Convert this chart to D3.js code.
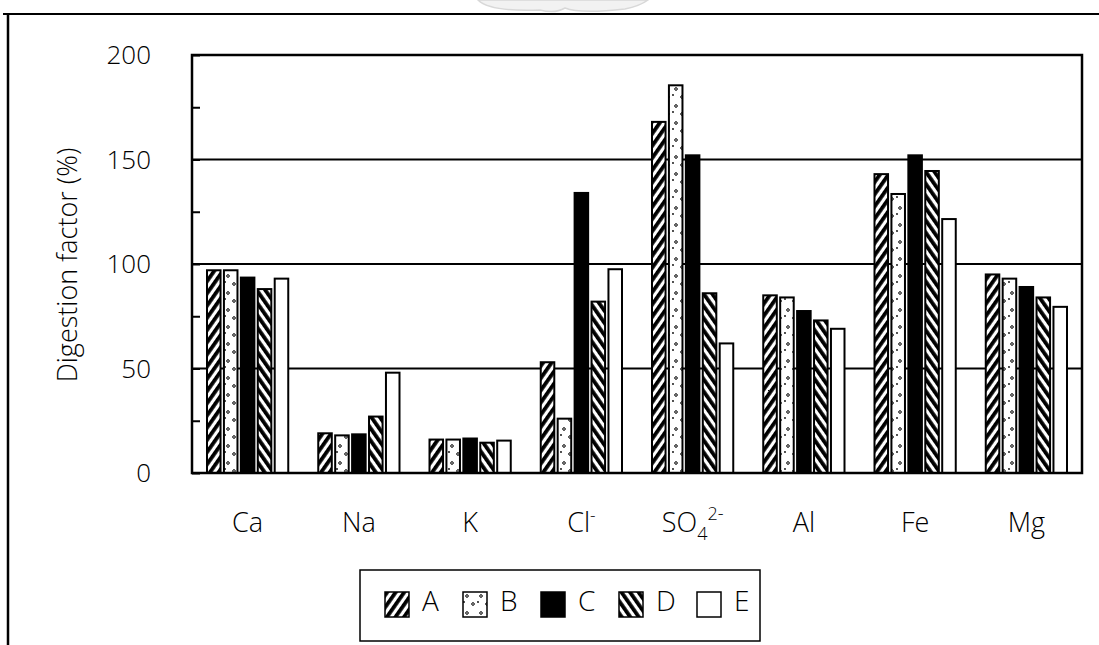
<!DOCTYPE html>
<html><head><meta charset="utf-8">
<script src="https://cdn.jsdelivr.net/npm/d3@7"></script>
<style>body{margin:0;background:#fff}svg{display:block}text{font-family:"Open Sans",sans-serif;fill:#000;font-weight:300}</style>
</head><body>
<svg id="c" width="1099" height="645"></svg>
<script>
const categories = ["Ca","Na","K","Cl","SO4","Al","Fe","Mg"];
const series = ["A","B","C","D","E"];
const valuesA = [97, 19, 16, 53, 168, 85, 143, 95];
const valuesB = [97, 18, 16, 26, 185.5, 84, 133.5, 93];
const valuesC = [93.5, 18.5, 16.5, 134, 152, 77.5, 152, 89];
const valuesD = [88, 27, 14.5, 82, 86, 73, 144.5, 84];
const valuesE = [93, 48, 15.5, 97.5, 62, 69, 121.5, 79.5];
const yTicks = [0, 50, 100, 150, 200];
const gridValues = [50, 100, 150];

const svg = d3.select("#c");
const defs = svg.append("defs");
function stripes(id, angle){
  const p = defs.append("pattern").attr("id", id).attr("patternUnits","userSpaceOnUse")
    .attr("width", 7).attr("height", 7).attr("patternTransform", `rotate(${angle})`);
  p.append("rect").attr("width",7).attr("height",7).attr("fill","#fff");
  p.append("rect").attr("width",3.8).attr("height",7).attr("fill","#000");
}
stripes("pA", 35);
stripes("pD", -35);
const pb = defs.append("pattern").attr("id","pB").attr("patternUnits","userSpaceOnUse").attr("width",14).attr("height",17);
pb.append("rect").attr("width",14).attr("height",17).attr("fill","#fff");
pb.append("circle").attr("cx",4).attr("cy",4).attr("r",1.3).attr("fill","none").attr("stroke","#000").attr("stroke-width",1);
pb.append("circle").attr("cx",10).attr("cy",12).attr("r",1.3).attr("fill","none").attr("stroke","#000").attr("stroke-width",1);
pb.append("circle").attr("cx",1).attr("cy",10).attr("r",0.9).attr("fill","#000");
const fills = {A:"url(#pA)", B:"url(#pB)", C:"#000", D:"url(#pD)", E:"#fff"};

// faint watermark fragment at top
svg.append("path").attr("d","M478,0 Q490,12 540,10 Q555,14 565,8 Q580,14 625,9 Q640,6 648,0 Z")
  .attr("fill","#f2f2f2").attr("stroke","#d8d8d8").attr("stroke-width",1.5);

// outer frame
svg.append("line").attr("x1",3).attr("x2",1099).attr("y1",14).attr("y2",14).attr("stroke","#000").attr("stroke-width",2);
svg.append("line").attr("x1",8).attr("x2",8).attr("y1",14).attr("y2",645).attr("stroke","#000").attr("stroke-width",2.5);

const L = 192, R = 1082, T = 55, B = 473;
const y = d3.scaleLinear().domain([0,200]).range([B,T]);
const x0 = d3.scaleBand().domain(categories).range([L,R]).padding(0);
const x1 = d3.scaleBand().domain(series).range([15, x0.bandwidth()-15]).paddingInner(0.2).paddingOuter(0);

svg.append("g").selectAll("line").data(gridValues).join("line")
  .attr("x1",L).attr("x2",R).attr("y1",d=>y(d)).attr("y2",d=>y(d))
  .attr("stroke","#000").attr("stroke-width",2);

const data = categories.map((c,i)=>({c, vals:[valuesA[i],valuesB[i],valuesC[i],valuesD[i],valuesE[i]]}));
const g = svg.append("g");
data.forEach(d=>{
  series.forEach((s,j)=>{
    g.append("rect").attr("x", x0(d.c)+x1(s)).attr("width", x1.bandwidth())
      .attr("y", y(d.vals[j])).attr("height", y(0)-y(d.vals[j]))
      .attr("fill", fills[s]).attr("stroke","#000").attr("stroke-width",2);
  });
});

const yAxis = d3.axisRight(y).tickValues(d3.range(0,201,25)).tickSize(8).tickFormat("");
const ya = svg.append("g").attr("transform",`translate(${L},0)`).call(yAxis);
ya.select(".domain").remove();
ya.selectAll("line").attr("stroke","#000").attr("stroke-width",2);
svg.append("g").selectAll("text").data(yTicks).join("text")
  .attr("x",151).attr("y",d=>y(d)).attr("dy","0.36em").attr("text-anchor","end")
  .attr("font-size",26).text(d=>d);

svg.append("rect").attr("x",L).attr("y",T).attr("width",R-L).attr("height",B-T)
  .attr("fill","none").attr("stroke","#000").attr("stroke-width",2.5);

svg.append("text").attr("transform",`translate(77,265) rotate(-90)`)
  .attr("text-anchor","middle").attr("font-size",27).text("Digestion factor (%)");

const xl = svg.append("g").selectAll("text").data(categories).join("text")
  .attr("x",d=>x0(d)+x0.bandwidth()/2).attr("y",532).attr("text-anchor","middle").attr("font-size",27);
xl.each(function(d){
  const t = d3.select(this);
  if(d==="Cl"){ t.text("Cl"); t.append("tspan").attr("dy",-11).attr("font-size",17).text("-"); }
  else if(d==="SO4"){ t.text("SO"); t.append("tspan").attr("dy",8).attr("font-size",18).text("4");
    t.append("tspan").attr("dy",-20).attr("font-size",18).text("2-"); }
  else t.text(d);
});

svg.append("rect").attr("x",360).attr("y",570).attr("width",400).attr("height",71)
  .attr("fill","#fff").attr("stroke","#000").attr("stroke-width",1.5);
const lg = svg.append("g").selectAll("g").data(series).join("g")
  .attr("transform",(d,i)=>`translate(${385+i*78},592)`);
lg.append("rect").attr("width",24).attr("height",25).attr("fill",d=>fills[d]).attr("stroke","#000").attr("stroke-width",1.5);
lg.append("text").attr("x",37).attr("y",19).attr("font-size",28).text(d=>d);
</script>
</body></html>
